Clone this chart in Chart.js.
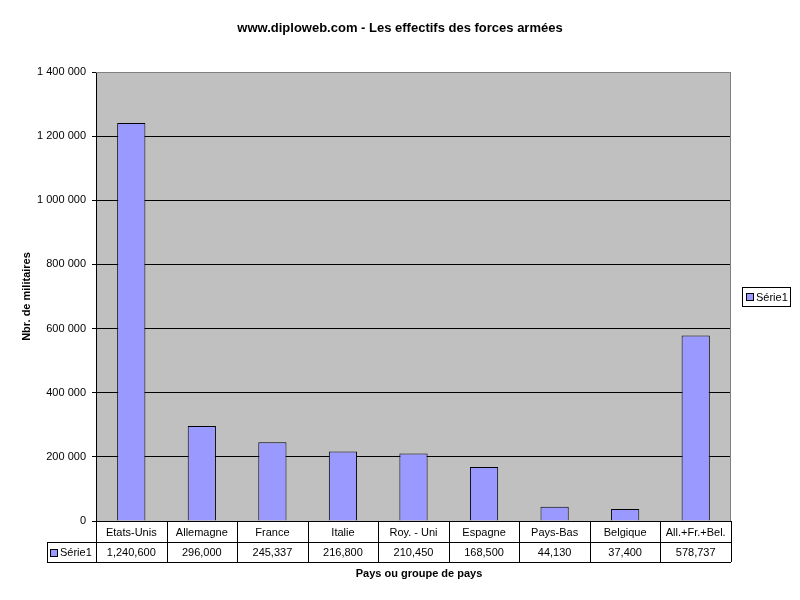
<!DOCTYPE html>
<html lang="fr">
<head>
    <meta charset="UTF-8">
    <title>Les effectifs des forces armées</title>
    <script src="https://cdn.jsdelivr.net/npm/chart.js"></script>
    <style>
        body { margin: 0; background: #fff; }
        #wrap { width: 800px; height: 600px; }
    </style>
</head>
<body>
<div id="wrap"><canvas id="chart" width="800" height="600"></canvas></div>
<script>
    // Données
    const pays = ['Etats-Unis', 'Allemagne', 'France', 'Italie', 'Roy. - Uni', 'Espagne', 'Pays-Bas', 'Belgique', 'All.+Fr.+Bel.'];
    const effectifs = [1240600, 296000, 245337, 216800, 210450, 168500, 44130, 37400, 578737];
    const serieNom = 'Série1';
    const yMax = 1400000;
    const yPas = 200000;

    const font = "'Liberation Sans', Arial, sans-serif";
    const barColor = '#9999FF';

    function espaces(v) {
        return String(v).replace(/\B(?=(\d{3})+(?!\d))/g, ' ');
    }
    function virgules(v) {
        return String(v).replace(/\B(?=(\d{3})+(?!\d))/g, ',');
    }

    // fond gris de la zone de traçage
    const fondPlugin = {
        id: 'fond',
        beforeDraw(chart) {
            const a = chart.chartArea;
            const c = chart.ctx;
            c.save();
            c.fillStyle = '#C0C0C0';
            c.fillRect(a.left, a.top, a.right - a.left, a.bottom - a.top);
            c.restore();
        },
        afterDatasetsDraw(chart) {
            const a = chart.chartArea;
            const c = chart.ctx;
            c.save();
            c.strokeStyle = '#808080';
            c.lineWidth = 1;
            c.beginPath();
            c.moveTo(a.left, a.top + 0.5);
            c.lineTo(a.right - 0.5, a.top + 0.5);
            c.lineTo(a.right - 0.5, a.bottom);
            c.stroke();
            c.restore();
        }
    };

    // titre, tableau de données sous le graphique, légende, titre de l'axe X
    const tablePlugin = {
        id: 'tableau',
        afterDraw(chart) {
            const a = chart.chartArea;
            const x = chart.scales.x;
            const c = chart.ctx;
            const n = pays.length;
            const step = (a.right - a.left) / n;
            const y0 = a.bottom, y1 = y0 + 21, y2 = y1 + 20;
            const keyLeft = 47;
            c.save();

            // titre principal
            c.fillStyle = '#000';
            c.font = 'bold 13px ' + font;
            c.textAlign = 'center';
            c.textBaseline = 'middle';
            c.fillText('www.diploweb.com - Les effectifs des forces armées', 400, 28);

            c.strokeStyle = '#000';
            c.lineWidth = 1;
            c.beginPath();
            // lignes horizontales
            c.moveTo(a.left, y0 + 0.5); c.lineTo(a.right, y0 + 0.5);
            c.moveTo(keyLeft, y1 + 0.5); c.lineTo(a.right, y1 + 0.5);
            c.moveTo(keyLeft, y2 + 0.5); c.lineTo(a.right, y2 + 0.5);
            // lignes verticales
            c.moveTo(keyLeft + 0.5, y1); c.lineTo(keyLeft + 0.5, y2);
            for (let i = 0; i <= n; i++) {
                const xx = Math.round(x.getPixelForValue(i) - step / 2) + 0.5;
                c.moveTo(xx, y0); c.lineTo(xx, y2);
            }
            c.stroke();

            c.font = '11px ' + font;
            for (let i = 0; i < n; i++) {
                const cx = x.getPixelForValue(i);
                c.fillText(pays[i], cx, (y0 + y1) / 2 + 1);
                c.fillText(virgules(effectifs[i]), cx, (y1 + y2) / 2 + 1);
            }
            // clé de la série
            c.fillStyle = barColor;
            c.fillRect(keyLeft + 3, y1 + 7, 7, 7);
            c.strokeRect(keyLeft + 3.5, y1 + 7.5, 7, 7);
            c.fillStyle = '#000';
            c.textAlign = 'left';
            c.fillText(serieNom, keyLeft + 13, (y1 + y2) / 2 + 1);

            // titre axe X
            c.font = 'bold 11px ' + font;
            c.textAlign = 'center';
            c.fillText('Pays ou groupe de pays', 419, 574);

            // légende à droite
            const lx = 742, ly = 287, lw = 48, lh = 19;
            c.fillStyle = '#fff';
            c.fillRect(lx, ly, lw, lh);
            c.strokeRect(lx + 0.5, ly + 0.5, lw, lh);
            c.fillStyle = barColor;
            c.fillRect(lx + 4, ly + 6, 7, 7);
            c.strokeRect(lx + 4.5, ly + 6.5, 7, 7);
            c.fillStyle = '#000';
            c.font = '11px ' + font;
            c.textAlign = 'left';
            c.fillText(serieNom, lx + 14, ly + lh / 2 + 1);
            c.restore();
        }
    };

    const ctx = document.getElementById('chart').getContext('2d');
    new Chart(ctx, {
        type: 'bar',
        data: {
            labels: pays,
            datasets: [{
                label: serieNom,
                data: effectifs,
                backgroundColor: barColor,
                borderColor: '#000',
                borderWidth: 1,
                barPercentage: 0.4,
                categoryPercentage: 1
            }]
        },
        options: {
            responsive: false,
            animation: false,
            layout: { padding: { left: 20, right: 69, top: 72, bottom: 79 } },
            plugins: {
                legend: { display: false },
                tooltip: { enabled: false },
                title: { display: false }
            },
            scales: {
                x: {
                    display: false
                },
                y: {
                    min: 0,
                    max: yMax,
                    afterFit(s) { s.width = 76; },
                    ticks: {
                        stepSize: yPas,
                        color: '#000',
                        padding: 6,
                        font: { family: font, size: 11 },
                        callback: v => espaces(v)
                    },
                    grid: {
                        color: c => (c.tick && c.tick.value === yMax) ? '#808080' : '#000',
                        tickColor: '#000',
                        tickLength: 4,
                        lineWidth: 1
                    },
                    border: { color: '#000' },
                    title: {
                        display: true,
                        text: 'Nbr. de militaires',
                        color: '#000',
                        font: { family: font, size: 11, weight: 'bold' },
                        padding: { top: 0, bottom: 0 }
                    }
                }
            }
        },
        plugins: [fondPlugin, tablePlugin]
    });
</script>
</body>
</html>
